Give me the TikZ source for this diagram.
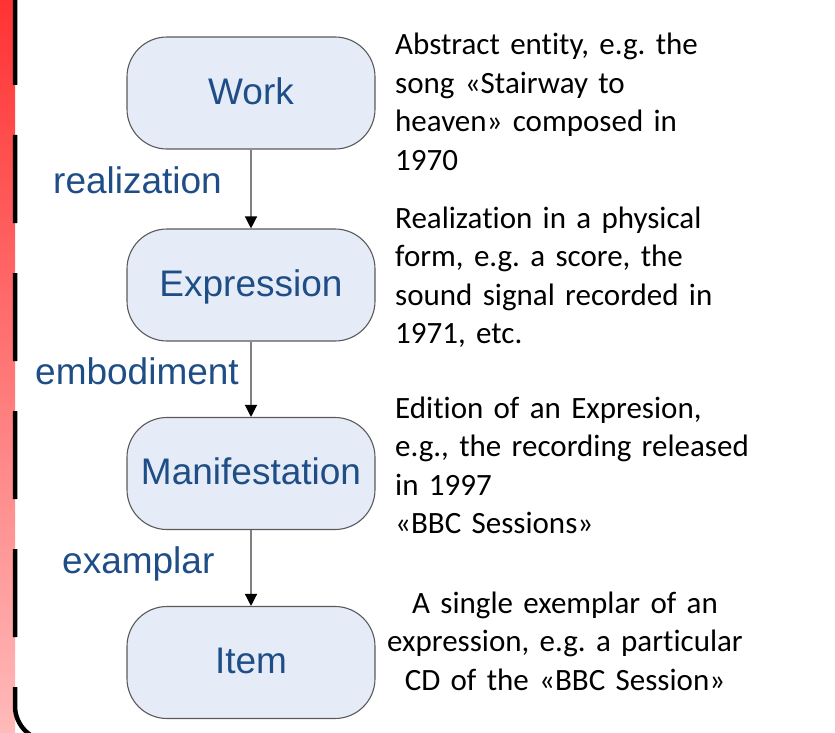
\documentclass[tikz,border=0pt]{standalone}
\usepackage{fontspec}
\setmainfont{Carlito}[Ligatures=NoCommon]
\newfontfamily\arialfont{Liberation Sans}
\usetikzlibrary{arrows.meta}
\definecolor{frbrblue}{RGB}{31,78,135}
\definecolor{boxfill}{RGB}{230,236,247}
\definecolor{boxline}{RGB}{90,90,90}
\definecolor{barred}{RGB}{255,51,51}
\definecolor{barpink}{RGB}{255,186,186}
\frenchspacing

\begin{document}
\begin{tikzpicture}[x=1pt,y=-1pt,
  entity/.style={draw=boxline,line width=1.1pt,fill=boxfill,rounded corners=40pt,
    minimum width=248pt,minimum height=112pt,inner sep=0pt,text height=26.5pt,text depth=4pt,
    font=\arialfont\fontsize{37}{44}\selectfont,text=frbrblue},
  rel/.style={font=\arialfont\fontsize{37}{44}\selectfont,text=frbrblue,anchor=base west,inner sep=0pt},
  note/.style={font=\fontsize{31}{38.5}\selectfont,text width=410pt,inner sep=0pt,anchor=base west,align=left},
  link/.style={draw=gray,line width=1.3pt,-{Triangle[width=12pt,length=12pt,color=black]}}]
  \useasboundingbox (0,0) rectangle (835,733);
  \clip (0,0) rectangle (835,733);
  % left frame
  \shade[top color=barred,bottom color=barpink] (0,0) rectangle (15,733);
  \draw[line width=4.5pt,dash pattern=on 88pt off 50pt,rounded corners=35pt]
    (15,-3) -- (15,741) -- (120,741);
  % entities
  \node[entity] (work) at (251,93) {Work};
  \node[entity] (expression) at (251,285) {Expression};
  \node[entity] (manifestation) at (251,473.5) {Manifestation};
  \node[entity] (item) at (251,662.5) {Item};
  % relations
  \draw[link] (work) -- (expression);
  \draw[link] (expression) -- (manifestation);
  \draw[link] (manifestation) -- (item);
  \node[rel] (realization) at (53,193) {realization};
  \node[rel] (embodiment) at (35,384) {embodiment};
  \node[rel] (examplar) at (62,573) {examplar};
  % notes
  \node[note] (worknote) at (395,55)
    {Abstract entity, e.g. the\\ song «Stairway to\\ heaven» composed in\\ 1970};
  \node[note] (expressionnote) at (395,228)
    {Realization in a physical\\ form, e.g. a score, the\\ sound signal recorded in\\ 1971, etc.};
  \node[note] (manifestationnote) at (395,418)
    {Edition of an Expresion,\\ e.g., the recording released\\ in 1997\\ «BBC Sessions»};
  \node[note,anchor=base,align=center] (itemnote) at (565,613)
    {A single exemplar of an\\ expression, e.g. a particular\\ CD of the «BBC Session»};
\end{tikzpicture}
\end{document}
